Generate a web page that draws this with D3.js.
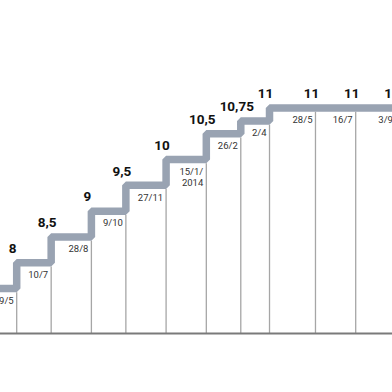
<!DOCTYPE html>
<html>
<head>
<meta charset="utf-8">
<script src="https://cdn.jsdelivr.net/npm/d3@7"></script>
<style>
  body { margin: 0; background: #fff; }
  svg { display: block; }
  .date { font-family: Roboto, sans-serif; font-size: 9.5px; fill: #333; }
  .rate { font-family: Roboto, sans-serif; font-size: 13.5px; font-weight: 700; fill: #111; }
</style>
</head>
<body>
<div id="chart"></div>
<script>
// Selic rate decisions (step chart)
var startRate = 7.5;
var dates = ['2013-05-29', '2013-07-10', '2013-08-28', '2013-10-09', '2013-11-27',
  '2014-01-15', '2014-02-26', '2014-04-02', '2014-05-28', '2014-07-16', '2014-09-03'];
var dateLabels = ['29/5', '10/7', '28/8', '9/10', '27/11', '15/1/\n2014',
  '26/2', '2/4', '28/5', '16/7', '3/9'];
var rates = [8, 8.5, 9, 9.5, 10, 10.5, 10.75, 11, 11, 11, 11];
var rateLabels = ['8', '8,5', '9', '9,5', '10', '10,5', '10,75', '11', '11', '11', '11'];

var width = 392;
var height = 392;
var baseline = 333.5;
var band = 7.5;

var parse = d3.utcParse('%Y-%m-%d');
var data = dates.map(function (d, i) {
  return {
    date: parse(d),
    label: dateLabels[i],
    rate: rates[i],
    prev: i === 0 ? startRate : rates[i - 1],
    rateLabel: rateLabels[i]
  };
});

var x = d3.scaleUtc()
  .domain([parse('2013-05-29'), parse('2014-07-16')])
  .range([16.7, 355.7]);

var y = d3.scaleLinear()
  .domain([7.5, 11])
  .range([288.5, 108]);

var svg = d3.select('#chart').append('svg')
  .attr('width', width)
  .attr('height', height);

// thin vertical guides from the step down to the baseline
svg.selectAll('.guide')
  .data(data)
  .enter().append('line')
  .attr('class', 'guide')
  .attr('x1', function (d) { return x(d.date); })
  .attr('x2', function (d) { return x(d.date); })
  .attr('y1', function (d) { return y(d.prev) + band / 2; })
  .attr('y2', baseline)
  .attr('stroke', '#a6a6a6')
  .attr('stroke-width', 1.3);

svg.append('line')
  .attr('x1', 0)
  .attr('x2', width)
  .attr('y1', baseline)
  .attr('y2', baseline)
  .attr('stroke', '#7a7a7a')
  .attr('stroke-width', 2);

// the staircase
var p = d3.path();
p.moveTo(0, y(startRate));
data.forEach(function (d) {
  p.lineTo(x(d.date), y(d.prev));
  p.lineTo(x(d.date), y(d.rate));
});
p.lineTo(width + 10, y(rates[rates.length - 1]));

svg.append('path')
  .attr('d', p.toString())
  .attr('fill', 'none')
  .attr('stroke', '#99a3b2')
  .attr('stroke-width', band)
  .attr('stroke-linejoin', 'bevel');

// date labels under the band, right-aligned to the guide
var dateText = svg.selectAll('.date')
  .data(data)
  .enter().append('text')
  .attr('class', 'date')
  .attr('text-anchor', 'end')
  .attr('x', function (d) { return x(d.date) - 3; })
  .attr('y', function (d) { return y(d.prev) + band / 2 + 11.5; });

dateText.selectAll('tspan')
  .data(function (d) {
    return d.label.split('\n').map(function (t) { return { t: t, xx: x(d.date) - 3 }; });
  })
  .enter().append('tspan')
  .attr('x', function (t) { return t.xx; })
  .attr('dy', function (t, i) { return i === 0 ? 0 : 11; })
  .text(function (t) { return t.t; });

// rate labels above the band
svg.selectAll('.rate')
  .data(data)
  .enter().append('text')
  .attr('class', 'rate')
  .attr('text-anchor', 'middle')
  .attr('x', function (d) { return x(d.date) - 4; })
  .attr('y', function (d) { return y(d.rate) - band / 2 - 6; })
  .text(function (d) { return d.rateLabel; });
</script>
</body>
</html>
